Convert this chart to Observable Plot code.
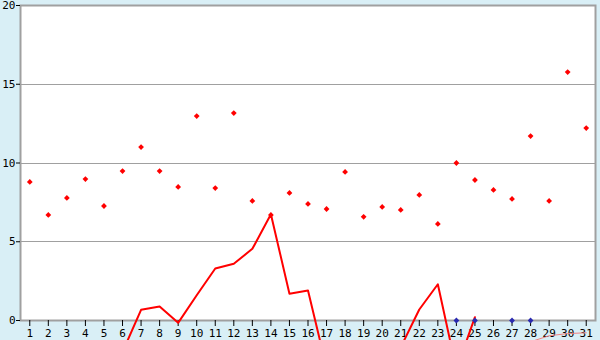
<!DOCTYPE html>
<html><head><meta charset="utf-8">
<script src="https://cdn.jsdelivr.net/npm/d3@7"></script>
<script src="https://cdn.jsdelivr.net/npm/@observablehq/plot@0.6"></script>
<style>html,body{margin:0;padding:0;background:#d9eff6;overflow:hidden;}</style>
</head><body><div id="chart"></div>
<script>
const days = d3.range(1, 32);
const pointVals = [8.80, 6.70, 7.78, 8.98, 7.27, 9.49, 11.01, 9.49, 8.48, 12.98,
  8.41, 13.17, 7.59, 6.70, 8.10, 7.40, 7.08, 9.43, 6.58, 7.21,
  7.02, 7.97, 6.13, 10.0, 8.92, 8.29, 7.72, 11.71, 7.59, 15.77, 12.22];
const lineVals = [null, null, null, null, null, -2.0, 0.68, 0.89, -0.15, 1.6,
  3.3, 3.6, 4.55, 6.75, 1.7, 1.9, -3.0, -3.5, -3.2, -2.8,
  -1.7, 0.7, 2.3, -3.1, 0.21, null, null, null, null, null, null];
const pinkVals = [null, null, null, null, null, null, null, null, null, null,
  null, null, null, null, null, null, null, null, null, null,
  null, null, null, null, null, null, null, -1.35, -0.97, -0.83, -0.78];
const blueVals = [null, null, null, null, null, null, null, null, null, null,
  null, null, null, null, null, null, null, null, null, null,
  null, null, null, 0, 0, null, 0, 0, null, null, null];
const yTicks = [0, 5, 10, 15, 20];
const gridTicks = [5, 10, 15];

const pts = days.map((d, i) => ({day: d, v: pointVals[i]}));
const ln = days.map((d, i) => ({day: d, v: lineVals[i]}));
const pk = days.map((d, i) => ({day: d, v: pinkVals[i]}));
const bl = days.map((d, i) => ({day: d, v: blueVals[i]})).filter(o => o.v !== null);

const chart = Plot.plot({
  width: 600, height: 340,
  marginLeft: 20, marginRight: 5, marginTop: 5, marginBottom: 20,
  style: {background: "#d9eff6", fontFamily: "DejaVu Sans Mono", fontSize: "11px", color: "black", overflow: "hidden"},
  x: {type: "point", domain: days, padding: 0.5, round: false},
  y: {domain: [0, 20]},
  marks: [
    Plot.frame({fill: "white", stroke: "#a0a0a0", strokeWidth: 2}),
    Plot.gridY(gridTicks, {stroke: "#a0a0a0", strokeOpacity: 1, strokeWidth: 1, shapeRendering: "crispEdges"}),
    Plot.axisY(yTicks, {tickSize: 4, tickPadding: 1, label: null, stroke: "black"}),
    Plot.axisX(days, {tickSize: 6, tickPadding: 3, label: null, stroke: "black"}),
    Plot.line(pk, {x: "day", y: "v", stroke: "#f08080", strokeWidth: 1}),
    Plot.line(ln, {x: "day", y: "v", stroke: "red", strokeWidth: 2}),
    Plot.dot(pts, {x: "day", y: "v", symbol: "diamond2", r: 2.6, fill: "red", stroke: "none"}),
    Plot.dot(bl, {x: "day", y: "v", symbol: "diamond2", r: 2.6, fill: "#2a2ab0", stroke: "none"})
  ]
});
document.getElementById("chart").appendChild(chart);
</script>
</body></html>
